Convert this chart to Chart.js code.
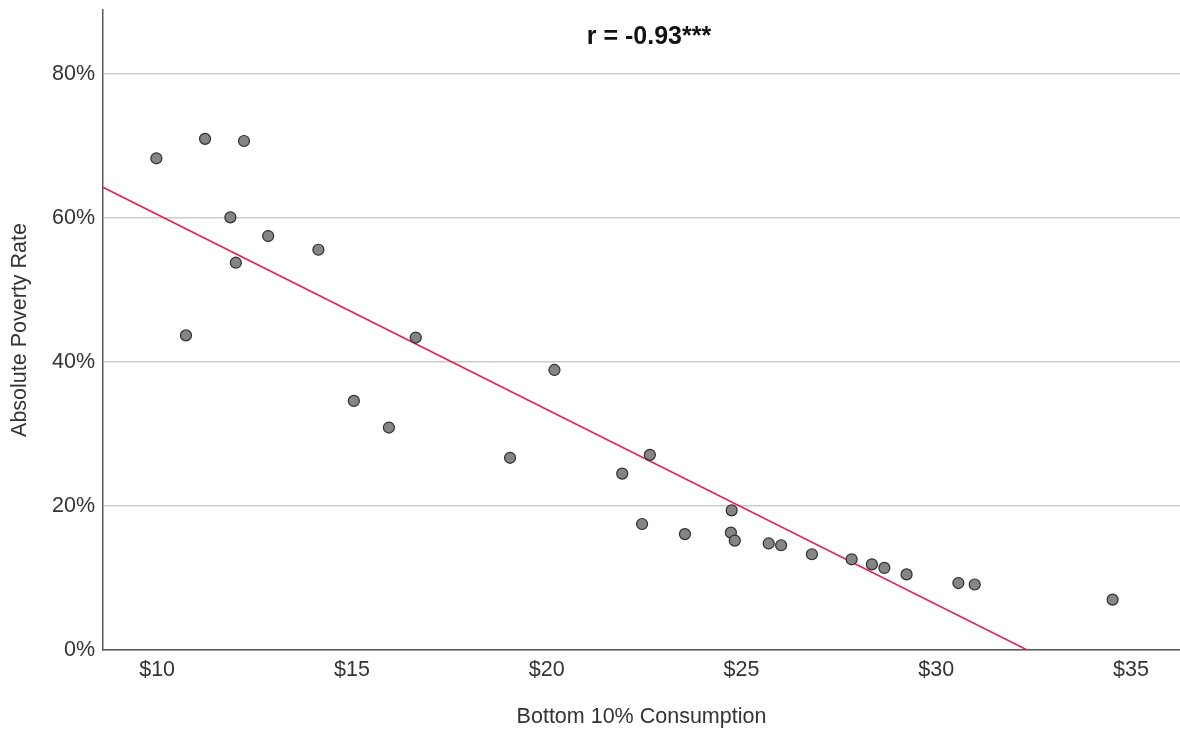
<!DOCTYPE html>
<html>
<head>
<meta charset="utf-8">
<script src="https://cdn.jsdelivr.net/npm/chart.js@4/dist/chart.umd.min.js"></script>
<style>
  html, body { margin: 0; padding: 0; background: #ffffff; }
  #wrap { width: 1180px; height: 732px; position: relative; }
</style>
</head>
<body>
<div id="wrap"><canvas id="chart"></canvas></div>
<script>
// Bottom 10% consumption (dollars) and absolute poverty rate (%) per country
const consumption = [9.98, 11.23, 12.23, 11.88, 12.85, 12.02, 14.14, 10.74, 16.64, 15.05,
                     15.95, 20.20, 19.06, 21.94, 22.65, 22.45, 23.55, 24.75, 24.73, 24.83,
                     25.70, 26.02, 26.81, 27.83, 28.35, 28.67, 29.24, 30.57, 30.99, 34.53];
const povertyRate = [68.3, 71.0, 70.7, 60.1, 57.5, 53.8, 55.6, 43.7, 43.4, 34.6,
                     30.9, 38.9, 26.7, 24.5, 27.1, 17.5, 16.1, 19.4, 16.3, 15.2,
                     14.8, 14.55, 13.3, 12.6, 11.9, 11.4, 10.5, 9.3, 9.1, 7.0];

// Linear fit: rate = intercept + slope * consumption
const fitIntercept = 87.6;
const fitSlope = -2.709;

// Axis ranges and tick values
const xRange = [8.61, 36.26];
const yRange = [0, 88.9];
const xTicks = [10, 15, 20, 25, 30, 35];
const yTicks = [0, 20, 40, 60, 80];

const corrLabel = 'r = -0.93***';
const xTitle = 'Bottom 10% Consumption';
const yTitle = 'Absolute Poverty Rate';

const points = consumption.map((x, i) => ({ x: x, y: povertyRate[i] }));

// Fit line runs from the left edge of the plot to where it reaches 0%
const fitEndX = -fitIntercept / fitSlope;
const fitLine = [
  { x: xRange[0], y: fitIntercept + fitSlope * xRange[0] },
  { x: fitEndX, y: 0 }
];

const FONT = "'Liberation Sans', Arial, sans-serif";
const tickFont = { family: FONT, size: 21.5, lineHeight: 1.2 };

// Correlation label drawn inside the top of the plot area
const corrLabelPlugin = {
  id: 'corrLabel',
  afterDraw(chart) {
    const { ctx, chartArea } = chart;
    ctx.save();
    ctx.font = "bold 25px " + FONT;
    ctx.fillStyle = '#111111';
    ctx.textAlign = 'center';
    ctx.textBaseline = 'middle';
    ctx.fillText(corrLabel, (chartArea.left + chartArea.right) / 2 + 7.5, chartArea.top + 27);
    ctx.restore();
  }
};

new Chart(document.getElementById('chart'), {
  type: 'scatter',
  data: {
    datasets: [
      {
        type: 'scatter',
        data: points,
        pointRadius: 5.5,
        pointHoverRadius: 5.5,
        backgroundColor: '#858585',
        borderColor: '#2e2e2e',
        borderWidth: 1.2,
        order: 1
      },
      {
        type: 'line',
        data: fitLine,
        borderColor: '#e3264f',
        borderWidth: 1.6,
        pointRadius: 0,
        fill: false,
        order: 2
      }
    ]
  },
  options: {
    responsive: true,
    maintainAspectRatio: false,
    animation: false,
    layout: { autoPadding: false, padding: { top: 10, right: 0, bottom: 0, left: 0 } },
    plugins: {
      legend: { display: false },
      tooltip: { enabled: false }
    },
    scales: {
      x: {
        type: 'linear',
        min: xRange[0],
        max: xRange[1],
        afterBuildTicks: (scale) => { scale.ticks = xTicks.map(v => ({ value: v })); },
        afterFit: (scale) => {
          scale.height = 82;
          scale.paddingLeft = 0;
          scale.paddingRight = 0;
        },
        border: { display: true, color: '#5a5a5a', width: 1.5 },
        grid: { display: false, drawTicks: false },
        ticks: {
          font: tickFont,
          color: '#333333',
          padding: 7,
          callback: (v) => '$' + v
        },
        title: {
          display: true,
          text: xTitle,
          font: tickFont,
          color: '#333333',
          padding: { top: 0, bottom: 2 }
        }
      },
      y: {
        type: 'linear',
        min: yRange[0],
        max: yRange[1],
        afterBuildTicks: (scale) => { scale.ticks = yTicks.map(v => ({ value: v })); },
        afterFit: (scale) => {
          scale.width = 103;
          scale.paddingTop = 0;
          scale.paddingBottom = 0;
        },
        border: { display: true, color: '#5a5a5a', width: 1.5 },
        grid: { display: true, drawTicks: false, color: '#cccccc', lineWidth: 1.5 },
        ticks: {
          font: tickFont,
          color: '#333333',
          padding: 8,
          callback: (v) => v + '%'
        },
        title: {
          display: true,
          text: yTitle,
          font: tickFont,
          color: '#333333',
          padding: { top: 7, bottom: 0 }
        }
      }
    }
  },
  plugins: [corrLabelPlugin]
});
</script>
</body>
</html>
